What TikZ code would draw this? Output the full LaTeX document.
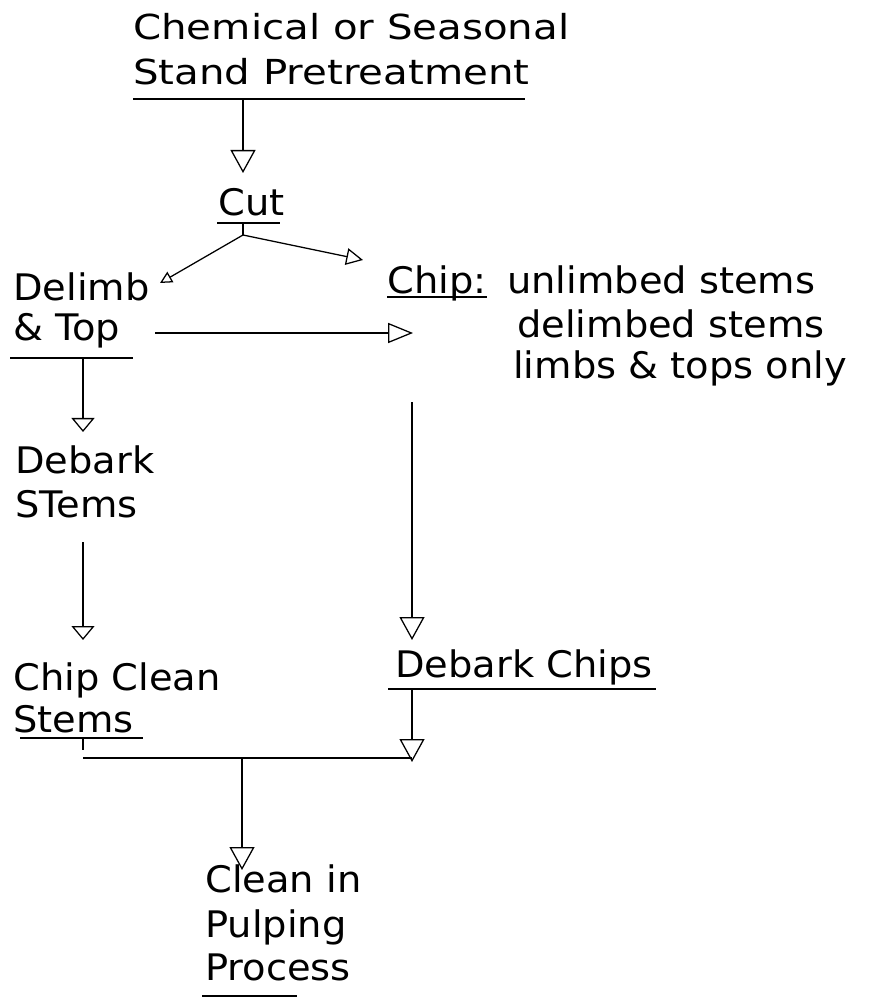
\documentclass[tikz,border=0pt]{standalone}
\usepackage{fontspec}
\setmainfont{DejaVu Sans}[FakeStretch=1.05]
\newfontfamily\headfont{DejaVu Sans}[FakeStretch=1.17]
\usetikzlibrary{arrows.meta}

\begin{document}
\begin{tikzpicture}[
    x=0.025cm, y=-0.025cm,
    lbl/.style={anchor=base west, inner sep=0pt, font=\fontsize{26}{31}\selectfont},
    headlbl/.style={lbl, font=\headfont\fontsize{24.5}{30}\selectfont},
    uline/.style={line width=1.3pt},
    flow/.style={-{Triangle[open, length=0.575cm, width=0.625cm]}, line width=0.9pt},
    flowflat/.style={-{Triangle[open, length=0.35cm, width=0.575cm]}, line width=0.9pt},
    flowside/.style={-{Triangle[open, length=0.62cm, width=0.5cm]}, line width=0.9pt},
    flowsm/.style={-{Triangle[open, length=0.3cm, width=0.3cm]}, line width=0.9pt},
    flowmd/.style={-{Triangle[open, length=0.42cm, width=0.42cm]}, line width=0.9pt}
]
    \useasboundingbox (0,0) rectangle (884,998);

    % --- Pretreatment and cut ---
    \node[headlbl] (pre1) at (133,40) {Chemical or Seasonal};
    \node[headlbl] (pre2) at (133,85) {Stand Pretreatment};
    \draw[uline] (133,99) -- (525,99);
    \coordinate (preOut) at (243,99);
    \coordinate (cutIn) at (243,173);
    \draw[flow] (preOut) -- (cutIn);

    \node[lbl] (cut) at (218,216) {Cut};
    \draw[uline] (217,223) -- (280,223);
    \coordinate (cutOut) at (243,223);
    \coordinate (cutFork) at (243,235);
    \coordinate (delIn) at (160,283);
    \coordinate (chipIn) at (363,260);
    \draw[line width=0.9pt] (cutOut) -- (cutFork);
    \draw[flowsm] (cutFork) -- (delIn);
    \draw[flowmd] (cutFork) -- (chipIn);

    % --- Delimb and chip ---
    \node[lbl] (del1) at (13,300) {Delimb};
    \node[lbl] (del2) at (13,340) {\& Top};
    \draw[uline] (10,358) -- (133,358);

    \node[lbl] (chip) at (387,293) {Chip:};
    \draw[uline] (387,297) -- (487,297);
    \node[lbl] (chip1) at (507,293) {unlimbed stems};
    \node[lbl] (chip2) at (517,337) {delimbed stems};
    \node[lbl] (chip3) at (513,378) {limbs \& tops only};

    \coordinate (delSide) at (155,333);
    \coordinate (chipSide) at (413,333);
    \draw[flowside] (delSide) -- (chipSide);

    % --- Left branch ---
    \coordinate (delOut) at (83,358);
    \coordinate (debIn) at (83,432);
    \draw[flowflat] (delOut) -- (debIn);
    \node[lbl] (deb1) at (15,473) {Debark};
    \node[lbl] (deb2) at (15,517) {STems};
    \coordinate (debOut) at (83,542);
    \coordinate (ccIn) at (83,640);
    \draw[flowflat] (debOut) -- (ccIn);
    \node[lbl] (cc1) at (13,690) {Chip Clean};
    \node[lbl] (cc2) at (13,732) {Stems};
    \draw[uline] (20,738) -- (143,738);

    % --- Right branch ---
    \coordinate (chipOut) at (412,402);
    \coordinate (dcIn) at (412,640);
    \draw[flow] (chipOut) -- (dcIn);
    \node[lbl] (dc) at (395,677) {Debark Chips};
    \draw[uline] (388,689) -- (656,689);
    \coordinate (dcOut) at (412,689);
    \coordinate (joinR) at (412,762);
    \draw[flow] (dcOut) -- (joinR);

    % --- Join and pulping ---
    \coordinate (ccOut) at (83,738);
    \coordinate (ccTick) at (83,750);
    \coordinate (joinL) at (83,758);
    \coordinate (joinRR) at (412,758);
    \draw[line width=0.9pt] (ccOut) -- (ccTick);
    \draw[line width=1.1pt] (joinL) -- (joinRR);
    \coordinate (joinMid) at (242,758);
    \coordinate (clIn) at (242,870);
    \draw[flow] (joinMid) -- (clIn);

    \node[lbl] (cl1) at (205,892) {Clean in};
    \node[lbl] (cl2) at (205,937) {Pulping};
    \node[lbl] (cl3) at (205,980) {Process};
    \draw[uline] (202,996) -- (297,996);
\end{tikzpicture}
\end{document}
